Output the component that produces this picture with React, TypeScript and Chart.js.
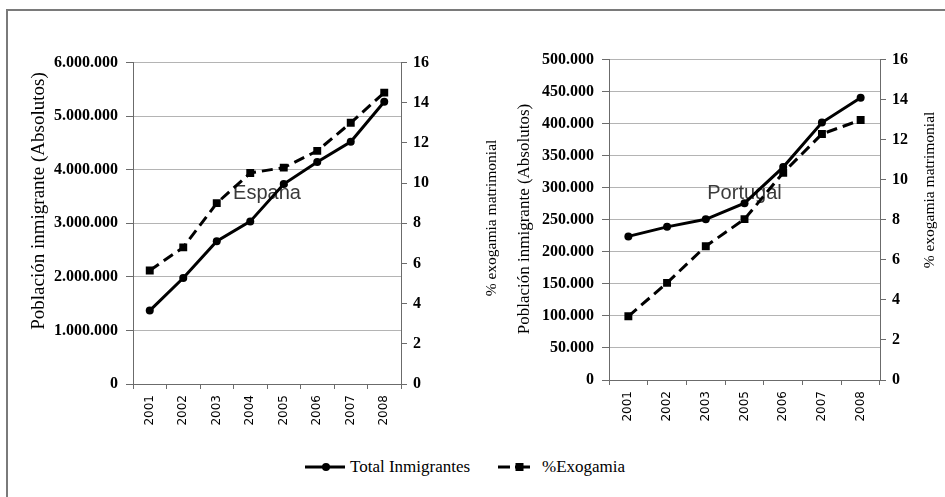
import React, { useEffect, useRef } from 'react';
import { Chart, registerables } from 'chart.js';

Chart.register(...registerables);

// ---------- data ----------
const espanaYears = ['2001', '2002', '2003', '2004', '2005', '2006', '2007', '2008'];
const espanaTotal = [1370657, 1977946, 2664168, 3034326, 3730610, 4144166, 4519554, 5268762];
const espanaExogamia = [5.65, 6.8, 9.0, 10.5, 10.77, 11.6, 13.0, 14.5];

const portugalYears = ['2001', '2002', '2003', '2005', '2006', '2007', '2008'];
const portugalTotal = [223997, 238929, 250697, 275906, 332137, 401612, 440277];
const portugalExogamia = [3.18, 4.85, 6.68, 8.03, 10.35, 12.28, 12.98];

const seriesNames = ['Total Inmigrantes', '%Exogamia'];
const countryNames = ['España', 'Portugal'];
const axisTitlePop = 'Población inmigrante (Absolutos)';
const axisTitleExo = '% exogamia matrimonial';

// ---------- styles ----------
const AXIS = '#6b6b6b';
const GRID = '#b4b4b4';
const SERIF = '"Liberation Serif", "Times New Roman", serif';

const fmt = (v: number) => Math.round(v).toString().replace(/\B(?=(\d{3})+(?!\d))/g, '.');

const overlayPlugin = {
  id: 'overlayTexts',
  beforeDatasetsDraw(chart: any, _args: any, o: any) {
    const ctx = chart.ctx;
    const a = chart.chartArea;
    ctx.save();
    ctx.font = '20px "Liberation Sans", Arial, sans-serif';
    ctx.fillStyle = '#3a3a3a';
    ctx.textAlign = 'center';
    ctx.textBaseline = 'alphabetic';
    ctx.fillText(o.label, (a.left + a.right) / 2, o.labelY);
    ctx.restore();
  },
  afterDraw(chart: any, _args: any, o: any) {
    const ctx = chart.ctx;
    for (const t of o.titles) {
      ctx.save();
      ctx.translate(t.x, t.y);
      ctx.rotate(-Math.PI / 2);
      ctx.font = `${t.size}px ${SERIF}`;
      ctx.fillStyle = '#000';
      ctx.textAlign = 'center';
      ctx.textBaseline = 'middle';
      ctx.fillText(t.text, 0, 0);
      ctx.restore();
    }
  },
};

function buildConfig(p: any) {
  const tickFont = { family: SERIF, size: 16, weight: 'bold' as const };
  return {
    type: 'line' as const,
    data: {
      labels: p.labels,
      datasets: [
        {
          label: seriesNames[0],
          data: p.total,
          yAxisID: 'y',
          borderColor: '#000',
          backgroundColor: '#000',
          borderWidth: 3,
          pointStyle: 'circle',
          pointRadius: 4,
          pointBorderWidth: 0,
          pointBackgroundColor: '#000',
          tension: 0,
        },
        {
          label: seriesNames[1],
          data: p.exo,
          yAxisID: 'y1',
          borderColor: '#000',
          backgroundColor: '#000',
          borderWidth: 3,
          borderDash: [11, 6],
          pointStyle: 'rect',
          pointRadius: 5.6,
          pointBorderWidth: 0,
          pointBackgroundColor: '#000',
          tension: 0,
        },
      ],
    },
    options: {
      responsive: false,
      animation: false,
      devicePixelRatio: 1,
      layout: { padding: { top: p.padTop, left: 0, right: 0, bottom: 0 } },
      plugins: {
        legend: { display: false },
        tooltip: { enabled: false },
        overlayTexts: { label: p.name, labelY: p.labelY, titles: p.titles },
      },
      scales: {
        x: {
          type: 'category',
          offset: true,
          grid: { offset: true, drawOnChartArea: false, drawTicks: true, tickLength: 5, tickColor: AXIS },
          border: { display: true, color: AXIS, width: 1 },
          ticks: {
            autoSkip: false,
            maxRotation: 90,
            minRotation: 90,
            padding: 6,
            color: '#000',
            font: { family: '"DejaVu Sans", Verdana, sans-serif', size: 12 },
          },
          afterFit: (s: any) => { s.height = p.xHeight; },
        },
        y: {
          position: 'left',
          min: 0,
          max: p.popMax,
          ticks: { stepSize: p.popStep, padding: 8, color: '#000', font: tickFont, callback: (v: any) => fmt(Number(v)) },
          grid: { color: GRID, tickColor: AXIS, tickLength: 7, drawTicks: true, lineWidth: 1 },
          border: { display: true, color: AXIS, width: 1 },
          afterFit: (s: any) => { s.width = p.leftW; },
        },
        y1: {
          position: 'right',
          min: 0,
          max: 16,
          ticks: { stepSize: 2, padding: 6, color: '#000', font: tickFont },
          grid: { drawOnChartArea: false, tickColor: AXIS, tickLength: 6, drawTicks: true },
          border: { display: true, color: AXIS, width: 1 },
          afterFit: (s: any) => { s.width = p.rightW; },
        },
      },
    },
    plugins: [overlayPlugin],
  };
}

function ChartCanvas({ config, left, width, height }: any) {
  const ref = useRef<HTMLCanvasElement | null>(null);
  useEffect(() => {
    const chart = new Chart(ref.current as HTMLCanvasElement, config as any);
    return () => chart.destroy();
  }, []);
  return (
    <canvas
      ref={ref}
      width={width}
      height={height}
      style={{ position: 'absolute', left, top: 0, width, height, display: 'block' }}
    />
  );
}

const leftConfig = buildConfig({
  labels: espanaYears,
  total: espanaTotal,
  exo: espanaExogamia,
  popMax: 6000000,
  popStep: 1000000,
  padTop: 62.5,
  xHeight: 56,
  leftW: 113,
  rightW: 104,
  name: countryNames[0],
  labelY: 199,
  titles: [
    { text: axisTitlePop, x: 19, y: 201, size: 19 },
    { text: axisTitleExo, x: 472, y: 218, size: 15.5 },
  ],
});

const rightConfig = buildConfig({
  labels: portugalYears,
  total: portugalTotal,
  exo: portugalExogamia,
  popMax: 500000,
  popStep: 50000,
  padTop: 59.5,
  xHeight: 60,
  leftW: 104,
  rightW: 65,
  name: countryNames[1],
  labelY: 199,
  titles: [
    { text: axisTitlePop, x: 20, y: 219, size: 17 },
    { text: axisTitleExo, x: 425, y: 190, size: 15.5 },
  ],
});

export default function App() {
  return (
    <div
      style={{
        position: 'absolute',
        left: 0,
        top: 0,
        width: 945,
        height: 497,
        overflow: 'hidden',
        background: '#fff',
      }}
    >
      <div
        style={{
          position: 'absolute',
          left: 6,
          top: 9,
          width: 1000,
          height: 600,
          borderLeft: '2px solid #7a7a7a',
          borderTop: '2px solid #7a7a7a',
        }}
      />
      <ChartCanvas config={leftConfig} left={20} width={485} height={440} />
      <ChartCanvas config={rightConfig} left={505} width={440} height={440} />

      <svg style={{ position: 'absolute', left: 303, top: 459, width: 44, height: 16 }} width={44} height={16}>
        <line x1={2} y1={8} x2={42} y2={8} stroke="#000" strokeWidth={3} />
        <circle cx={23} cy={8} r={4} fill="#000" />
      </svg>
      <div
        style={{
          position: 'absolute',
          left: 350,
          top: 457,
          lineHeight: '20px',
          fontFamily: SERIF,
          fontSize: 17,
          color: '#000',
          whiteSpace: 'nowrap',
        }}
      >
        {seriesNames[0]}
      </div>
      <svg style={{ position: 'absolute', left: 496, top: 459, width: 40, height: 16 }} width={40} height={16}>
        <line x1={2} y1={8} x2={14} y2={8} stroke="#000" strokeWidth={3} />
        <line x1={19} y1={8} x2={34} y2={8} stroke="#000" strokeWidth={3} />
        <rect x={19.5} y={4} width={8} height={8} fill="#000" />
      </svg>
      <div
        style={{
          position: 'absolute',
          left: 542,
          top: 457,
          lineHeight: '20px',
          fontFamily: SERIF,
          fontSize: 17,
          color: '#000',
          whiteSpace: 'nowrap',
        }}
      >
        {seriesNames[1]}
      </div>
    </div>
  );
}
